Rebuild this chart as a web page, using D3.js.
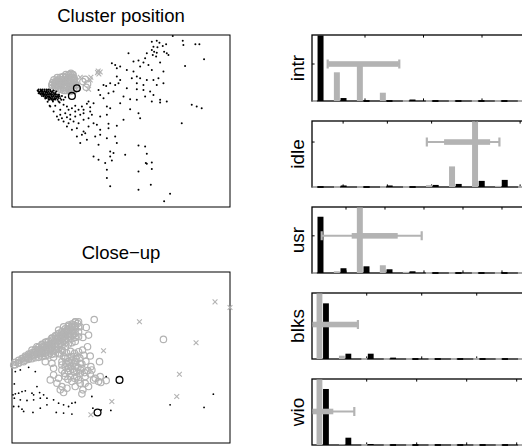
<!DOCTYPE html>
<html><head><meta charset="utf-8">
<script src="https://cdn.jsdelivr.net/npm/d3@7"></script>
<style>body{margin:0;background:#fff} svg{display:block} text{font-family:"Liberation Sans",Arial,Helvetica,sans-serif;fill:#000}</style>
</head><body><svg id="c" width="522" height="446"></svg>
<script>
// ---------------- DATA ----------------
const titles = ["Cluster position", "Close\u2212up"];
const histNames = ["intr", "idle", "usr", "blks", "wio"];

// Cluster position (top-left) : [x, y]
const topDots = [
[48.3,51.4],[42.0,49.7],[43.5,50.0],[44.3,49.4],[46.3,48.9],[51.3,50.0],[51.5,48.7],[55.1,48.9],[56.3,48.9],[42.5,48.2],
[43.7,48.0],[45.3,48.4],[42.0,47.2],[42.7,46.7],[43.5,46.4],[45.7,46.7],[46.5,46.2],[47.0,45.7],[35.0,46.2],[40.5,46.2],
[42.3,45.7],[40.0,44.7],[43.3,45.2],[57.7,44.4],[36.5,43.7],[38.0,44.0],[39.5,43.4],[41.0,42.7],[44.5,43.4],[31.0,42.7],
[30.0,43.2],[31.5,41.7],[32.5,42.2],[34.5,41.2],[38.5,42.2],[52.0,42.4],[42.0,41.2],[45.5,40.7],[36.5,40.7],[37.5,39.2],
[36.0,38.7],[38.5,38.7],[40.5,38.2],[42.5,38.2],[44.0,38.7],[31.5,39.2],[32.5,38.2],[29.5,37.2],[31.0,36.7],[32.0,37.2],
[27.5,36.7],[26.0,35.2],[28.3,36.4],[37.5,37.2],[39.5,36.7],[43.5,36.7],[45.5,37.2],[34.5,35.7],[37.5,35.4],[39.5,35.2],
[41.5,34.7],[42.5,33.7],[29.0,34.2],[30.5,34.7],[26.5,33.7],[27.5,32.7],[33.5,33.2],[35.5,32.4],[40.0,33.2],[44.5,32.2],
[46.5,31.7],[37.5,32.2],[54.0,30.7],[55.5,30.2],[57.0,29.7],[42.0,31.7],[44.5,31.4],[23.0,31.7],[24.5,31.2],[28.5,30.2],
[29.5,29.7],[35.5,29.4],[32.5,31.2],[21.5,29.2],[23.5,28.7],[26.5,27.2],[28.5,27.7],[33.5,26.2],[31.5,24.4],[29.0,25.0],
[29.0,23.7],[25.5,24.7],[26.5,23.2],[51.0,25.2],[38.0,28.2],[38.5,26.7],[25.0,21.2],[26.5,21.7],[28.5,20.7],[31.0,21.2],
[20.5,19.2],[22.5,20.2],[26.0,18.7],[31.5,19.2],[38.0,18.5],[40.0,18.2],[29.5,16.7],[30.5,16.2],[34.0,15.7],[29.5,15.2],
[40.5,16.0],[24.5,15.2],[26.0,14.2],[28.0,13.2],[30.0,14.0],[40.2,13.2],[42.0,13.4],[40.5,13.0],[42.0,11.4],[38.0,10.7],
[28.5,11.2],[28.5,8.7],[29.5,6.2],[41.7,6.7],[38.0,5.2],[47.5,4.0],[45.7,1.7],
[11.5,30.2],[13.0,30.4],[14.0,31.7],[14.5,29.2],[15.5,30.7],[16.5,30.2],[17.0,29.2],[18.0,29.7],[19.0,30.4],[20.0,29.2],
[21.0,30.2],[22.5,31.0],[23.5,30.0],[20.5,27.7],[19.0,27.2],[17.5,27.7],[16.0,28.2],[14.5,27.7],[14.0,26.2],[15.5,25.7],
[17.0,25.2],[18.5,25.7],[20.0,25.2],[21.5,26.2],[23.0,26.7],[24.0,27.7],[16.5,24.2],[18.0,23.2],[19.5,23.7],[21.5,22.7],
[23.0,24.2],[24.5,25.2],[19.5,21.2],[21.0,21.7],[22.0,22.2],[13.5,27.2],[15.0,26.7],[16.5,27.0],[17.5,26.4],[19.0,28.7],
[21.5,28.2],[12.5,28.7],
[7.7,35.0],[8.3,34.6],[8.7,35.2],[9.3,34.2],[9.8,34.8],[10.3,33.7],[10.7,34.4],[11.1,33.2],[11.5,34.0],[12.0,34.6],
[12.5,33.4],[13.0,34.2],[13.5,33.2],[14.0,33.7],[14.5,32.7],[15.0,33.4],[9.0,33.4],[10.0,33.0],[11.0,32.2],[11.7,32.6],
[12.3,31.7],[11.3,30.4],[9.5,34.0],[10.5,35.2],[11.5,35.2],[12.5,35.0],[13.3,34.7],[8.5,34.0],[8.0,34.2],[13.7,32.2],
[14.3,31.4],[15.5,32.2],[16.0,33.0],[10.0,32.6],[10.7,31.6],[9.2,34.7],[10.2,34.5],[12.7,32.4],[12.0,33.2],[13.0,32.6],
[8.9,34.9],[9.6,33.6],[10.9,33.8],[11.8,33.7],[12.9,33.8],[13.9,33.1],[14.8,32.2],[10.4,32.9],[11.4,32.9],[12.2,32.1],
[8.0,35.3],[8.6,35.3],[9.2,35.3],[9.8,35.3],[10.4,35.3],[11.0,35.3],
[7.9,34.8],[8.5,34.8],[9.1,34.8],[9.7,34.8],[10.3,34.8],[10.9,34.8],[11.5,34.8],[12.1,34.8],
[8.2,34.3],[8.8,34.3],[9.4,34.3],[10.0,34.3],[10.6,34.3],[11.2,34.3],[11.8,34.3],[12.4,34.3],[13.0,34.3],
[8.7,33.8],[9.3,33.8],[9.9,33.8],[10.5,33.8],[11.1,33.8],[11.7,33.8],[12.3,33.8],[12.9,33.8],[13.5,33.8],[14.1,33.8],
[9.5,33.3],[10.1,33.3],[10.7,33.3],[11.3,33.3],[11.9,33.3],[12.5,33.3],[13.1,33.3],[13.7,33.3],[14.3,33.3],
[10.3,32.8],[10.9,32.8],[11.5,32.8],[12.1,32.8],[12.7,32.8],[13.3,32.8],[13.9,32.8],
[11.2,32.3],[11.8,32.3],[12.4,32.3],[13.0,32.3]
];
const topGrayCircles = [
[12.0,36.7],[13.0,37.2],[14.0,37.7],[15.0,38.2],[16.0,39.0],[17.0,39.7],[17.7,40.2],[13.0,36.0],[14.0,36.4],[15.0,37.0],
[16.0,37.4],[17.0,38.2],[18.0,39.0],[18.3,39.7],[14.5,35.4],[15.5,36.0],[16.5,36.4],[17.5,37.2],[18.5,38.0],[18.7,38.7],
[16.0,35.0],[17.0,35.4],[18.0,36.0],[19.0,36.7],[17.5,34.7],[18.5,35.2],[16.5,37.7],[15.5,36.7],[13.5,36.7],[14.5,37.4],
[17.7,36.4],[18.9,37.4],
[15.5,35.0],[16.5,35.0],[17.5,35.0],[18.5,35.0],
[12.2,35.8],[13.2,35.8],[14.5,35.8],[15.5,35.8],[16.5,35.8],[17.5,35.8],[18.5,35.8],[19.3,35.8],
[12.0,36.6],[12.8,36.6],[13.5,36.6],[14.5,36.6],[15.5,36.6],[16.5,36.6],[17.5,36.6],[18.5,36.6],[19.3,36.6],
[12.2,37.4],[13.0,37.6],[13.5,37.4],[14.5,37.4],[15.5,37.4],[16.5,37.4],[17.5,37.4],[18.5,37.4],
[12.6,38.2],[13.8,38.2],[14.8,38.2],[15.8,38.2],[16.8,38.2],[17.8,38.2],[18.6,38.2],
[13.6,38.9],[14.6,39.0],[15.4,39.2],[16.3,39.0],[17.3,39.0],[18.3,39.0],[17.5,39.8],[18.3,39.8],[16.2,39.8],
[22.0,38.4],[22.7,37.0],[22.3,36.0],[21.3,37.7]
];
const topGrayCrosses = [[20.5,39.0],[23.7,39.0],[25.7,40.4],[26.1,40.0],[26.5,40.6],[25.9,40.9],[23.0,35.4],[23.5,38.2]];
const topBlackCircles = [[19.5,35.7],[18.0,33.4]];

// Close-up (bottom-left) : [x, y]
const closeGrayCircles = [
[0.5,23.5],[2.0,24.0],[3.5,24.5],[5.0,25.5],[6.5,26.2],[8.0,27.0],[9.0,27.5],[10.0,28.2],[11.0,28.8],[12.0,29.2],
[13.0,30.0],[14.0,30.7],[15.0,31.5],[16.0,32.2],[17.0,33.0],[18.0,34.0],[19.0,35.0],[19.7,36.0],[19.0,36.5],[17.5,34.5],
[16.5,33.5],[15.5,32.8],[14.5,32.0],[13.5,31.2],[12.5,30.5],[11.5,29.8],[10.5,29.5],[9.5,28.8],[8.5,28.2],[7.5,27.8],
[6.5,27.2],[5.5,26.8],[4.5,26.0],[6.0,28.0],[7.5,29.0],[9.0,29.5],[10.5,30.5],[12.0,31.5],[13.5,32.5],[15.0,33.5],
[16.5,34.2],[18.0,35.0],[14.5,30.0],[13.0,29.0],[11.5,28.0],[10.0,27.0],[8.5,26.5],[16.0,31.0],[17.5,32.0],[18.5,33.0],
[14.0,34.0],[15.5,35.0],[17.0,35.5],
[1.0,23.6],[1.0,24.3],[2.0,24.2],[2.0,24.9],[3.0,24.6],[3.0,25.4],[4.0,24.9],[4.0,25.7],[4.0,26.2],
[5.0,25.2],[5.0,26.0],[5.0,26.8],[6.0,25.4],[6.0,26.3],[6.0,27.2],[7.0,25.7],[7.0,26.6],[7.0,27.5],[7.0,28.2],
[8.0,25.8],[8.0,26.8],[8.0,27.8],[8.0,28.8],[9.0,26.0],[9.0,27.0],[9.0,28.0],[9.0,29.0],[9.0,29.7],
[10.0,26.2],[10.0,27.2],[10.0,28.3],[10.0,29.3],[10.0,30.3],[11.0,26.5],[11.0,27.5],[11.0,28.5],[11.0,29.5],[11.0,30.6],
[12.0,26.7],[12.0,27.8],[12.0,28.8],[12.0,29.9],[12.0,31.0],[12.0,31.6],
[13.0,26.9],[13.0,28.0],[13.0,29.2],[13.0,30.4],[13.0,31.5],[13.0,32.3],
[14.0,27.1],[14.0,28.3],[14.0,29.5],[14.0,30.8],[14.0,32.0],[14.0,33.0],
[15.0,28.0],[15.0,29.2],[15.0,30.4],[15.0,31.6],[15.0,32.7],[15.0,33.6],
[16.0,29.0],[16.0,30.2],[16.0,31.4],[16.0,32.6],[16.0,33.6],[16.0,34.4],
[17.0,29.8],[17.0,31.0],[17.0,32.2],[17.0,33.4],[17.0,34.4],[17.0,35.1],
[18.0,30.2],[18.0,31.4],[18.0,32.6],[18.0,33.8],[18.0,34.9],[18.0,35.8],
[19.0,30.6],[19.0,31.8],[19.0,33.0],[19.0,34.2],[19.0,35.4],[19.0,36.4],
[20.0,32.0],[20.0,33.5],[20.0,35.0],[20.0,36.5],
[15.2,27.8],[16.4,27.2],[17.6,27.6],[18.8,27.0],[20.0,27.5],[21.2,28.0],
[15.6,26.0],[16.8,25.8],[18.0,25.0],[19.2,25.4],[20.4,25.6],[21.6,26.4],
[15.0,23.5],[16.2,24.0],[17.4,23.8],[18.6,24.0],[19.8,22.8],[21.0,23.8],[22.2,24.6],
[15.8,21.0],[17.0,22.5],[18.2,22.2],[19.4,21.6],[20.6,22.0],[21.8,21.2],
[14.0,19.5],[16.8,19.2],[18.8,19.5],[20.0,19.0],[22.8,21.8],[24.0,22.0],[24.5,19.0],[26.5,20.0],[22.0,18.0],[23.0,17.0],
[24.7,37.2],[20.5,35.0],[22.3,34.8],[23.0,32.5],[21.3,31.8],[22.7,29.0],[23.5,26.2],[26.3,24.5],[23.7,23.0],[10.0,24.5],
[12.5,25.8],[14.3,26.8],[16.0,25.5],[18.0,26.0],[19.5,26.2],[15.0,24.5],[17.0,24.5],[19.0,24.5],[20.5,24.0],[16.0,23.0],
[17.5,23.0],[19.0,23.0],[21.0,22.5],[15.0,22.0],[17.0,21.5],[18.5,21.5],[20.5,21.0],[22.0,20.0],[23.5,20.8],[25.0,19.5],
[26.0,18.5],[26.7,18.2],[28.3,18.8],[12.5,20.5],[11.5,19.0],[13.5,18.0],[15.0,17.0],[14.5,16.0],[15.5,15.2],[16.5,16.5],
[18.0,18.5],[19.0,17.0],[20.5,18.0],[21.0,14.8],[21.3,16.0],[19.5,20.0],[17.5,20.0],[16.0,20.0],[12.5,22.5],[12.0,24.0],
[45.5,31.2]
];
const closeGrayCrosses = [[61.0,42.5],[65.5,40.8],[38.3,36.5],[55.3,30.2],[27.5,27.8],[50.3,20.7],[49.5,14.0],[30.0,12.5],[23.7,8.5],[0.5,24.0],[3.0,25.5]];
const closeBlackCircles = [[32.3,19.0],[25.7,9.2]];
const closeDots = [
[1.0,21.5],[2.5,22.0],[5.0,22.8],[7.0,21.5],[0.7,17.8],[0.3,14.5],[1.0,14.8],[2.0,15.0],[3.0,15.5],[4.0,15.7],
[6.0,15.0],[7.5,17.0],[8.3,15.2],[9.5,14.5],[10.5,13.5],[6.5,13.0],[4.5,12.8],[2.5,13.0],[0.7,13.5],[0.5,11.0],
[2.0,11.0],[3.0,10.2],[3.5,9.5],[6.3,9.2],[8.5,10.5],[10.5,11.5],[12.5,13.0],[14.0,12.0],[15.5,11.5],[17.0,11.0],
[18.0,12.0],[19.0,12.2],[15.5,9.0],[18.0,8.7],[13.3,9.2],[24.0,14.0],[24.3,10.5],[26.8,10.0],[29.7,9.8],[28.3,20.0],
[47.5,11.5],[57.7,10.7],[60.5,14.7],[8.5,13.5],[6.5,14.5]
];

// Histograms (right column)
const intrBins  = [0.183,0.576,0.969,1.362,1.755,2.148,2.541,2.934,3.327,3.720];
const intrBlack = [0.95,0.04,0,0,0.02,0,0,0,0,0];
const intrGray  = [0,0.388,0.527,0.112,0,0,0,0,0,0];
const intrXlim = [0.094,4.128], intrTicks = [1,2,3,4], intrYmax = 0.892;
const intrThin = [0.362,1.586], intrThick = [0.372,1.576];

const idleBins  = [0.417,0.937,1.457,1.977,2.497,3.017,3.537,4.057,4.577,5.097];
const idleBlack = [0,0.017,0,0.017,0,0.023,0.034,0.068,0.079,0.05];
const idleGray  = [0,0,0,0,0,0.02,0.229,0.8,0.012,0];
const idleXlim = [0.297,5.63], idleTicks = [1,2,3,4,5], idleYmax = 0.734;
const idleThin = [2.892,4.532], idleThick = [3.282,4.322];

const usrBins  = [0.26,0.85,1.44,2.03,2.62,3.21,3.80,4.39,4.98,5.57];
const usrBlack = [0.757,0.064,0.09,0.05,0.023,0,0,0,0,0];
const usrGray  = [0,0.023,0.95,0.104,0.015,0,0,0,0,0];
const usrXlim = [0.128,6.18], usrTicks = [1,2,3,4,5,6], usrYmax = 0.888;
const usrThin = [0.377,2.941], usrThick = [1.146,2.326];

const blksBins  = [0.2,0.607,1.014,1.421,1.828,2.235,2.642,3.049,3.456,3.863];
const blksBlack = [0.807,0.077,0.077,0.02,0,0,0,0,0,0];
const blksGray  = [1.0,0.048,0,0,0,0,0,0,0,0];
const blksXlim = [0.005,4.296], blksTicks = [1,2,3,4], blksYmax = 0.957;
const blksThin = [-0.7,0.84], blksThick = [-0.6,0.829];

const wioBins  = [0.12,0.568,1.016,1.464,1.912,2.36,2.808,3.256,3.704,4.152];
const wioBlack = [0.836,0.109,0.015,0,0,0,0,0,0,0];
const wioGray  = [1.0,0.01,0,0,0,0,0,0,0,0];
const wioXlim = [-0.094,4.626], wioTicks = [1,2,3,4], wioYmax = 0.985;
const wioThin = [-0.5,0.752], wioThick = [-0.3,0.332];

const yTickValue = 0.5;

// ---------------- DRAW ----------------
const GRAY = "#b3b3b3";
const svg = d3.select("#c");
svg.append("rect").attr("width",522).attr("height",446).attr("fill","#fff");

function scatter(box, xDom, yDom, title, sets) {
  const x = d3.scaleLinear().domain(xDom).range([box.l, box.r]);
  const y = d3.scaleLinear().domain(yDom).range([box.b, box.t]);
  const g = svg.append("g");
  g.append("text").attr("x",(box.l+box.r)/2).attr("y",box.t-13.5)
    .attr("text-anchor","middle").attr("font-size",18.5).text(title);
  g.append("rect").attr("x",box.l).attr("y",box.t).attr("width",box.r-box.l).attr("height",box.b-box.t)
    .attr("fill","none").attr("stroke","#000").attr("stroke-width",1);
  g.selectAll(null).data(sets.grayCircles).join("circle")
    .attr("cx",d=>x(d[0])).attr("cy",d=>y(d[1])).attr("r",3.2)
    .attr("fill","none").attr("stroke",GRAY).attr("stroke-width",1.2);
  g.selectAll(null).data(sets.grayCrosses).join("path")
    .attr("d",d=>{const cx=x(d[0]),cy=y(d[1]),s=2.4;return `M${cx-s},${cy-s}L${cx+s},${cy+s}M${cx-s},${cy+s}L${cx+s},${cy-s}`;})
    .attr("stroke",GRAY).attr("stroke-width",1.1).attr("fill","none");
  g.selectAll(null).data(sets.dots).join("circle")
    .attr("cx",d=>x(d[0])).attr("cy",d=>y(d[1])).attr("r",sets.dotR).attr("fill","#000");
  g.selectAll(null).data(sets.blackCircles).join("circle")
    .attr("cx",d=>x(d[0])).attr("cy",d=>y(d[1])).attr("r",3.4)
    .attr("fill","none").attr("stroke","#000").attr("stroke-width",1.3);
}

scatter({l:12,r:230,t:35,b:207},[0,65.5],[0,51.7],titles[0],
  {grayCircles:topGrayCircles, grayCrosses:topGrayCrosses, dots:topDots, blackCircles:topBlackCircles, dotR:1.0});
scatter({l:12,r:230,t:272,b:443},[0,65.5],[0,51.5],titles[1],
  {grayCircles:closeGrayCircles, grayCrosses:closeGrayCrosses, dots:closeDots, blackCircles:closeBlackCircles, dotR:0.9});

const hists = [
  {bins:intrBins,black:intrBlack,gray:intrGray,xlim:intrXlim,ticks:intrTicks,ymax:intrYmax,thin:intrThin,thick:intrThick},
  {bins:idleBins,black:idleBlack,gray:idleGray,xlim:idleXlim,ticks:idleTicks,ymax:idleYmax,thin:idleThin,thick:idleThick},
  {bins:usrBins,black:usrBlack,gray:usrGray,xlim:usrXlim,ticks:usrTicks,ymax:usrYmax,thin:usrThin,thick:usrThick},
  {bins:blksBins,black:blksBlack,gray:blksGray,xlim:blksXlim,ticks:blksTicks,ymax:blksYmax,thin:blksThin,thick:blksThick},
  {bins:wioBins,black:wioBlack,gray:wioGray,xlim:wioXlim,ticks:wioTicks,ymax:wioYmax,thin:wioThin,thick:wioThick}
];

const defs = svg.append("defs");
hists.forEach((h,i)=>{
  const L=312, R=548, T=35+86*i, B=T+66;
  const x = d3.scaleLinear().domain(h.xlim).range([L,R]);
  const y = d3.scaleLinear().domain([0,h.ymax]).range([B,T]);
  const g = svg.append("g");
  defs.append("clipPath").attr("id","cp"+i).append("rect")
    .attr("x",L+0.5).attr("y",T+0.6).attr("width",R-L-1).attr("height",B-T+0.4);
  g.append("text").attr("transform",`translate(303.5,${(T+B)/2}) rotate(-90)`)
    .attr("text-anchor","middle").attr("font-size",19).text(histNames[i]);
  g.append("rect").attr("x",L).attr("y",T).attr("width",R-L).attr("height",B-T)
    .attr("fill","none").attr("stroke","#000").attr("stroke-width",1.3);
  h.ticks.forEach(t=>{
    g.append("line").attr("x1",x(t)).attr("x2",x(t)).attr("y1",T).attr("y2",T+2.6).attr("stroke","#000").attr("stroke-width",1);
    g.append("line").attr("x1",x(t)).attr("x2",x(t)).attr("y1",B).attr("y2",B-2.6).attr("stroke","#000").attr("stroke-width",1);
  });
  g.append("line").attr("x1",L).attr("x2",L+2.6).attr("y1",y(yTickValue)).attr("y2",y(yTickValue)).attr("stroke","#000").attr("stroke-width",1);
  const cg = g.append("g").attr("clip-path",`url(#cp${i})`);
  const sp = h.bins[1]-h.bins[0], bw = 0.26*sp, off = 0.145*sp;
  const bar = (vals, sign, color) => {
    cg.selectAll(null).data(vals.map((v,k)=>({v, c:h.bins[k]+sign*off}))).join("rect")
      .attr("x",d=>x(d.c-bw/2)).attr("width",d=>x(d.c+bw/2)-x(d.c-bw/2))
      .attr("y",d=> d.v>0 ? y(Math.min(d.v,h.ymax*1.05)) : B-0.9)
      .attr("height",d=> d.v>0 ? B-y(Math.min(d.v,h.ymax*1.05)) : 1.8)
      .attr("fill",color);
  };
  bar(h.gray,-1,GRAY);
  bar(h.black,1,"#000");
  const yc = y(yTickValue);
  cg.append("line").attr("x1",x(h.thin[0])).attr("x2",x(h.thin[1])).attr("y1",yc).attr("y2",yc)
    .attr("stroke",GRAY).attr("stroke-width",2);
  h.thin.forEach(v=>cg.append("line").attr("x1",x(v)).attr("x2",x(v)).attr("y1",yc-4.5).attr("y2",yc+4.5)
    .attr("stroke",GRAY).attr("stroke-width",2.2));
  cg.append("rect").attr("x",x(h.thick[0])).attr("width",x(h.thick[1])-x(h.thick[0]))
    .attr("y",yc-2.8).attr("height",5.6).attr("fill",GRAY);
});
</script></body></html>
